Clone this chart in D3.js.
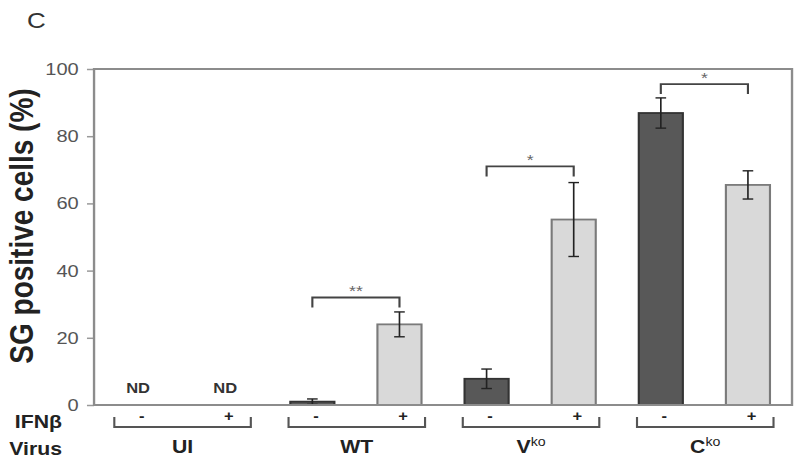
<!DOCTYPE html>
<html lang="en">
<head>
  <meta charset="UTF-8" />
  <title>SG positive cells</title>
  <script src="https://d3js.org/d3.v7.min.js"></script>
  <style>
    body {
      margin: 0;
      background: #fff;
    }
    svg {
      display: block;
      font-family: "Liberation Sans", Arial, sans-serif;
    }
    .tick text {
      font-size: 17px;
      fill: #555;
    }
    .tick line {
      stroke: #999;
      stroke-width: 1.5px;
    }
  </style>
</head>
<body>
  <svg id="chart"></svg>

  <script>
    const viruses = ["UI", "WT", "Vko", "Cko"];
    const virusBase = ["UI", "WT", "V", "C"];
    const virusSup = ["", "", "ko", "ko"];
    const ifnLevels = ["-", "+"];

    // mean % SG positive cells, without / with IFNβ (null = not detected)
    const meanNoIFN = [null, 1.0, 7.8, 86.9];
    const meanIFN = [null, 24.0, 55.2, 65.5];
    const errNoIFN = [null, 0.8, 2.9, 4.5];
    const errIFN = [null, 3.7, 11.0, 4.2];

    const yTicks = [0, 20, 40, 60, 80, 100];

    const sigVirus = ["WT", "Vko", "Cko"];
    const sigLabel = ["**", "*", "*"];
    const sigLevel = [32, 71, 95.5];

    // the original figure is stretched horizontally, so draw in a narrower
    // coordinate space and let the viewBox stretch it
    const stretch = 1.18;
    const W = 800 / stretch, H = 463;

    const svg = d3.select("#chart")
      .attr("width", 800)
      .attr("height", 463)
      .attr("viewBox", `0 0 ${W} ${H}`)
      .attr("preserveAspectRatio", "none");

    const plotLeft = 79.7, plotRight = 671.2, plotTop = 69, plotBottom = 405;

    const bars = [];
    viruses.forEach((v, i) => {
      bars.push({ virus: v, ifn: ifnLevels[0], key: v + "-", mean: meanNoIFN[i], err: errNoIFN[i] });
      bars.push({ virus: v, ifn: ifnLevels[1], key: v + "+", mean: meanIFN[i], err: errIFN[i] });
    });

    const x = d3.scaleBand()
      .domain(bars.map(d => d.key))
      .range([plotLeft, plotRight])
      .paddingInner(0.494)
      .paddingOuter(0.253);

    const y = d3.scaleLinear().domain([0, 100]).range([plotBottom, plotTop]);

    // panel letter
    svg.append("text")
      .attr("x", 23)
      .attr("y", 28)
      .attr("font-size", 22)
      .attr("fill", "#333")
      .text("C");

    // y axis
    const yAxis = svg.append("g")
      .attr("transform", `translate(${plotLeft},0)`)
      .call(d3.axisLeft(y).tickValues(yTicks).tickSize(6).tickPadding(7));
    yAxis.select(".domain").remove();

    svg.append("text")
      .attr("transform", "translate(28,226) rotate(-90)")
      .attr("text-anchor", "middle")
      .attr("font-size", 28)
      .attr("font-weight", "bold")
      .attr("fill", "#222")
      .text("SG positive cells (%)");

    // bars
    const shown = bars.filter(d => d.mean !== null);

    svg.append("g").selectAll("rect")
      .data(shown)
      .join("rect")
      .attr("x", d => x(d.key))
      .attr("y", d => y(d.mean))
      .attr("width", x.bandwidth())
      .attr("height", d => y(0) - y(d.mean))
      .attr("fill", d => d.ifn === "-" ? "#585858" : "#d9d9d9")
      .attr("stroke", d => d.ifn === "-" ? "#333" : "#7a7a7a")
      .attr("stroke-width", 1.8);

    // error bars
    const cap = 4.5;
    const eb = svg.append("g")
      .attr("stroke", "#222")
      .attr("stroke-width", 1.4)
      .selectAll("g")
      .data(shown)
      .join("g")
      .attr("transform", d => `translate(${x(d.key) + x.bandwidth() / 2},0)`);
    eb.append("line")
      .attr("y1", d => y(Math.max(0, d.mean - d.err)))
      .attr("y2", d => y(d.mean + d.err));
    eb.append("line")
      .attr("x1", -cap).attr("x2", cap)
      .attr("y1", d => y(d.mean + d.err))
      .attr("y2", d => y(d.mean + d.err));
    eb.append("line")
      .attr("x1", -cap).attr("x2", cap)
      .attr("y1", d => y(Math.max(0, d.mean - d.err)))
      .attr("y2", d => y(Math.max(0, d.mean - d.err)));

    // ND labels
    svg.append("g").selectAll("text")
      .data(bars.filter(d => d.mean === null))
      .join("text")
      .attr("x", d => x(d.key) + x.bandwidth() / 2)
      .attr("y", 393)
      .attr("text-anchor", "middle")
      .attr("font-size", 14)
      .attr("font-weight", "bold")
      .attr("fill", "#333")
      .text("ND");

    // plot frame
    svg.append("rect")
      .attr("x", plotLeft)
      .attr("y", plotTop)
      .attr("width", plotRight - plotLeft)
      .attr("height", plotBottom - plotTop)
      .attr("fill", "none")
      .attr("stroke", "#8c8c8c")
      .attr("stroke-width", 2);

    // significance brackets
    const hook = 10;
    sigVirus.forEach((v, i) => {
      const x1 = x(v + "-") + x.bandwidth() / 2;
      const x2 = x(v + "+") + x.bandwidth() / 2;
      const yy = y(sigLevel[i]);
      svg.append("path")
        .attr("d", `M${x1},${yy + hook}V${yy}H${x2}V${yy + hook}`)
        .attr("fill", "none")
        .attr("stroke", "#444")
        .attr("stroke-width", 1.8);
      svg.append("text")
        .attr("x", (x1 + x2) / 2)
        .attr("y", yy - 1)
        .attr("text-anchor", "middle")
        .attr("font-size", 15)
        .attr("fill", "#666")
        .text(sigLabel[i]);
    });

    // IFNβ signs under each bar
    svg.append("g").selectAll("text")
      .data(bars)
      .join("text")
      .attr("x", d => x(d.key) + x.bandwidth() / 2 + 3)
      .attr("y", 421)
      .attr("text-anchor", "middle")
      .attr("font-size", 14)
      .attr("font-weight", "bold")
      .attr("fill", "#222")
      .text(d => d.ifn);

    // virus group brackets and labels
    const groupY = 427;
    viruses.forEach((v, i) => {
      const x1 = x(v + "-") - 1.5;
      const x2 = x(v + "+") + x.bandwidth() + 3;
      svg.append("path")
        .attr("d", `M${x1},${groupY - 10}V${groupY}H${x2}V${groupY - 10}`)
        .attr("fill", "none")
        .attr("stroke", "#555")
        .attr("stroke-width", 1.8);
      const t = svg.append("text")
        .attr("x", (x1 + x2) / 2)
        .attr("y", 453)
        .attr("text-anchor", "middle")
        .attr("font-size", 18)
        .attr("font-weight", "bold")
        .attr("fill", "#222");
      t.append("tspan").text(virusBase[i]);
      if (virusSup[i]) {
        t.append("tspan")
          .attr("dy", -7)
          .attr("font-size", 12)
          .attr("font-weight", "normal")
          .text(virusSup[i]);
      }
    });

    // row labels
    svg.append("text")
      .attr("x", 52.5)
      .attr("y", 428)
      .attr("text-anchor", "end")
      .attr("font-size", 18)
      .attr("font-weight", "bold")
      .attr("fill", "#222")
      .text("IFNβ");
    svg.append("text")
      .attr("x", 52.5)
      .attr("y", 455)
      .attr("text-anchor", "end")
      .attr("font-size", 18)
      .attr("font-weight", "bold")
      .attr("fill", "#222")
      .text("Virus");
  </script>
</body>
</html>
